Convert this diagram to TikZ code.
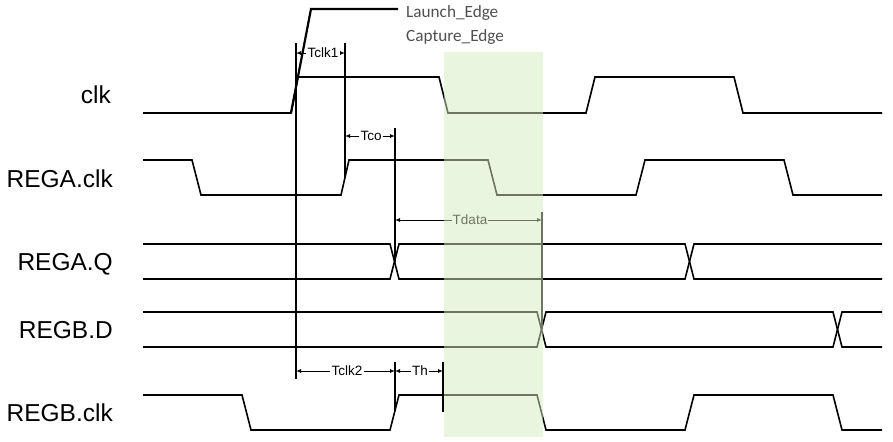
\documentclass[tikz,border=0pt]{standalone}
\usepackage{fontspec}
\setmainfont{Liberation Sans}
\newfontfamily\calfont{Carlito}
\usetikzlibrary{arrows.meta}
\definecolor{boxgreen}{RGB}{214,235,194}
\definecolor{notegray}{RGB}{80,80,80}
\tikzset{
  wave/.style={line width=1.6bp, line join=miter},
  extline/.style={line width=1.3bp},
  dimline/.style={line width=0.9bp, -{Latex[length=5bp,width=4bp]}},
  siglabel/.style={anchor=base east, inner sep=0pt, font=\fontsize{24.5bp}{27bp}\selectfont},
  dimlabel/.style={inner sep=1bp, font=\fontsize{13.5bp}{15bp}\selectfont},
  notelabel/.style={anchor=base west, inner sep=0pt, text=notegray, font=\calfont\fontsize{17.2bp}{19bp}\selectfont},
  window/.style={fill=boxgreen, fill opacity=0.5, draw=none}
}
\begin{document}
\begin{tikzpicture}[x=1bp,y=-1bp]
\useasboundingbox (0,0) rectangle (893,442);

% signal names
\node[siglabel] (nclk)  at (111,104) {clk};
\node[siglabel] (nrac)  at (113,188) {REGA.clk};
\node[siglabel] (nraq)  at (113,271) {REGA.Q};
\node[siglabel] (nrbd)  at (113,339) {REGB.D};
\node[siglabel] (nrbc)  at (113,421) {REGB.clk};

% waveforms
\draw[wave] (143,113) -- (291,113) -- (298,77) -- (439,77) -- (448,113) -- (586,113) -- (595,77) -- (734,77) -- (743,113) -- (882,113);
\draw[wave] (143,160) -- (192,160) -- (201,195) -- (341,195) -- (349,160) -- (488,160) -- (497,195) -- (636,195) -- (645,160) -- (784,160) -- (793,195) -- (882,195);
\draw[wave] (143,244) -- (390,244) -- (399,279) -- (685,279) -- (694,244) -- (882,244);
\draw[wave] (143,279) -- (390,279) -- (399,244) -- (685,244) -- (694,279) -- (882,279);
\draw[wave] (143,312) -- (537,312) -- (546,347) -- (833,347) -- (842,312) -- (882,312);
\draw[wave] (143,347) -- (537,347) -- (546,312) -- (833,312) -- (842,347) -- (882,347);
\draw[wave] (143,395) -- (242,395) -- (251,430) -- (390,430) -- (399,395) -- (537,395) -- (546,430) -- (685,430) -- (694,395) -- (833,395) -- (842,430) -- (882,430);

% launch edge
\coordinate (lfoot) at (291,113);
\coordinate (ltop) at (311,9);
\coordinate (lend) at (398,9);
\draw[line width=2.2bp, line join=miter] (lfoot) -- (ltop) -- (lend);
\node[notelabel] (launch)  at (406,18) {Launch\_Edge};
\node[notelabel] (capture) at (406,42) {Capture\_Edge};

% extension lines
\coordinate (e1t) at (296,43);  \coordinate (e1b) at (296,379);
\coordinate (e2t) at (345,43);  \coordinate (e2b) at (345,178);
\coordinate (e3t) at (395,128); \coordinate (e3b) at (395,262);
\coordinate (e4t) at (542,212); \coordinate (e4b) at (542,329.5);
\coordinate (e5t) at (395,362); \coordinate (e5b) at (395,411);
\coordinate (e6t) at (443,362); \coordinate (e6b) at (443,412);
\draw[extline] (e1t) -- (e1b);
\draw[extline] (e2t) -- (e2b);
\draw[extline] (e3t) -- (e3b);
\draw[extline] (e4t) -- (e4b);
\draw[extline] (e5t) -- (e5b);
\draw[extline] (e6t) -- (e6b);

% dimension arrows
\coordinate (a1l) at (296,53);  \coordinate (a1r) at (345,53);
\node[dimlabel] (tclk1) at (323,53) {Tclk1};
\draw[dimline] (tclk1.west) -- (a1l);
\draw[dimline] (tclk1.east) -- (a1r);

\coordinate (a2l) at (345,136); \coordinate (a2r) at (395,136);
\node[dimlabel] (tco) at (371,136) {Tco};
\draw[dimline] (tco.west) -- (a2l);
\draw[dimline] (tco.east) -- (a2r);

\coordinate (a3l) at (395,220); \coordinate (a3r) at (542,220);
\node[dimlabel] (tdata) at (470,220) {Tdata};
\draw[dimline] (tdata.west) -- (a3l);
\draw[dimline] (tdata.east) -- (a3r);

\coordinate (a4l) at (296,371); \coordinate (a4r) at (395,371);
\node[dimlabel] (tclk2) at (347,371) {Tclk2};
\draw[dimline] (tclk2.west) -- (a4l);
\draw[dimline] (tclk2.east) -- (a4r);

\coordinate (a5l) at (395,371); \coordinate (a5r) at (443,371);
\node[dimlabel] (th) at (420,371) {Th};
\draw[dimline] (th.west) -- (a5l);
\draw[dimline] (th.east) -- (a5r);

% capture window
\fill[window] (444,52) rectangle (543,437);
\end{tikzpicture}
\end{document}
